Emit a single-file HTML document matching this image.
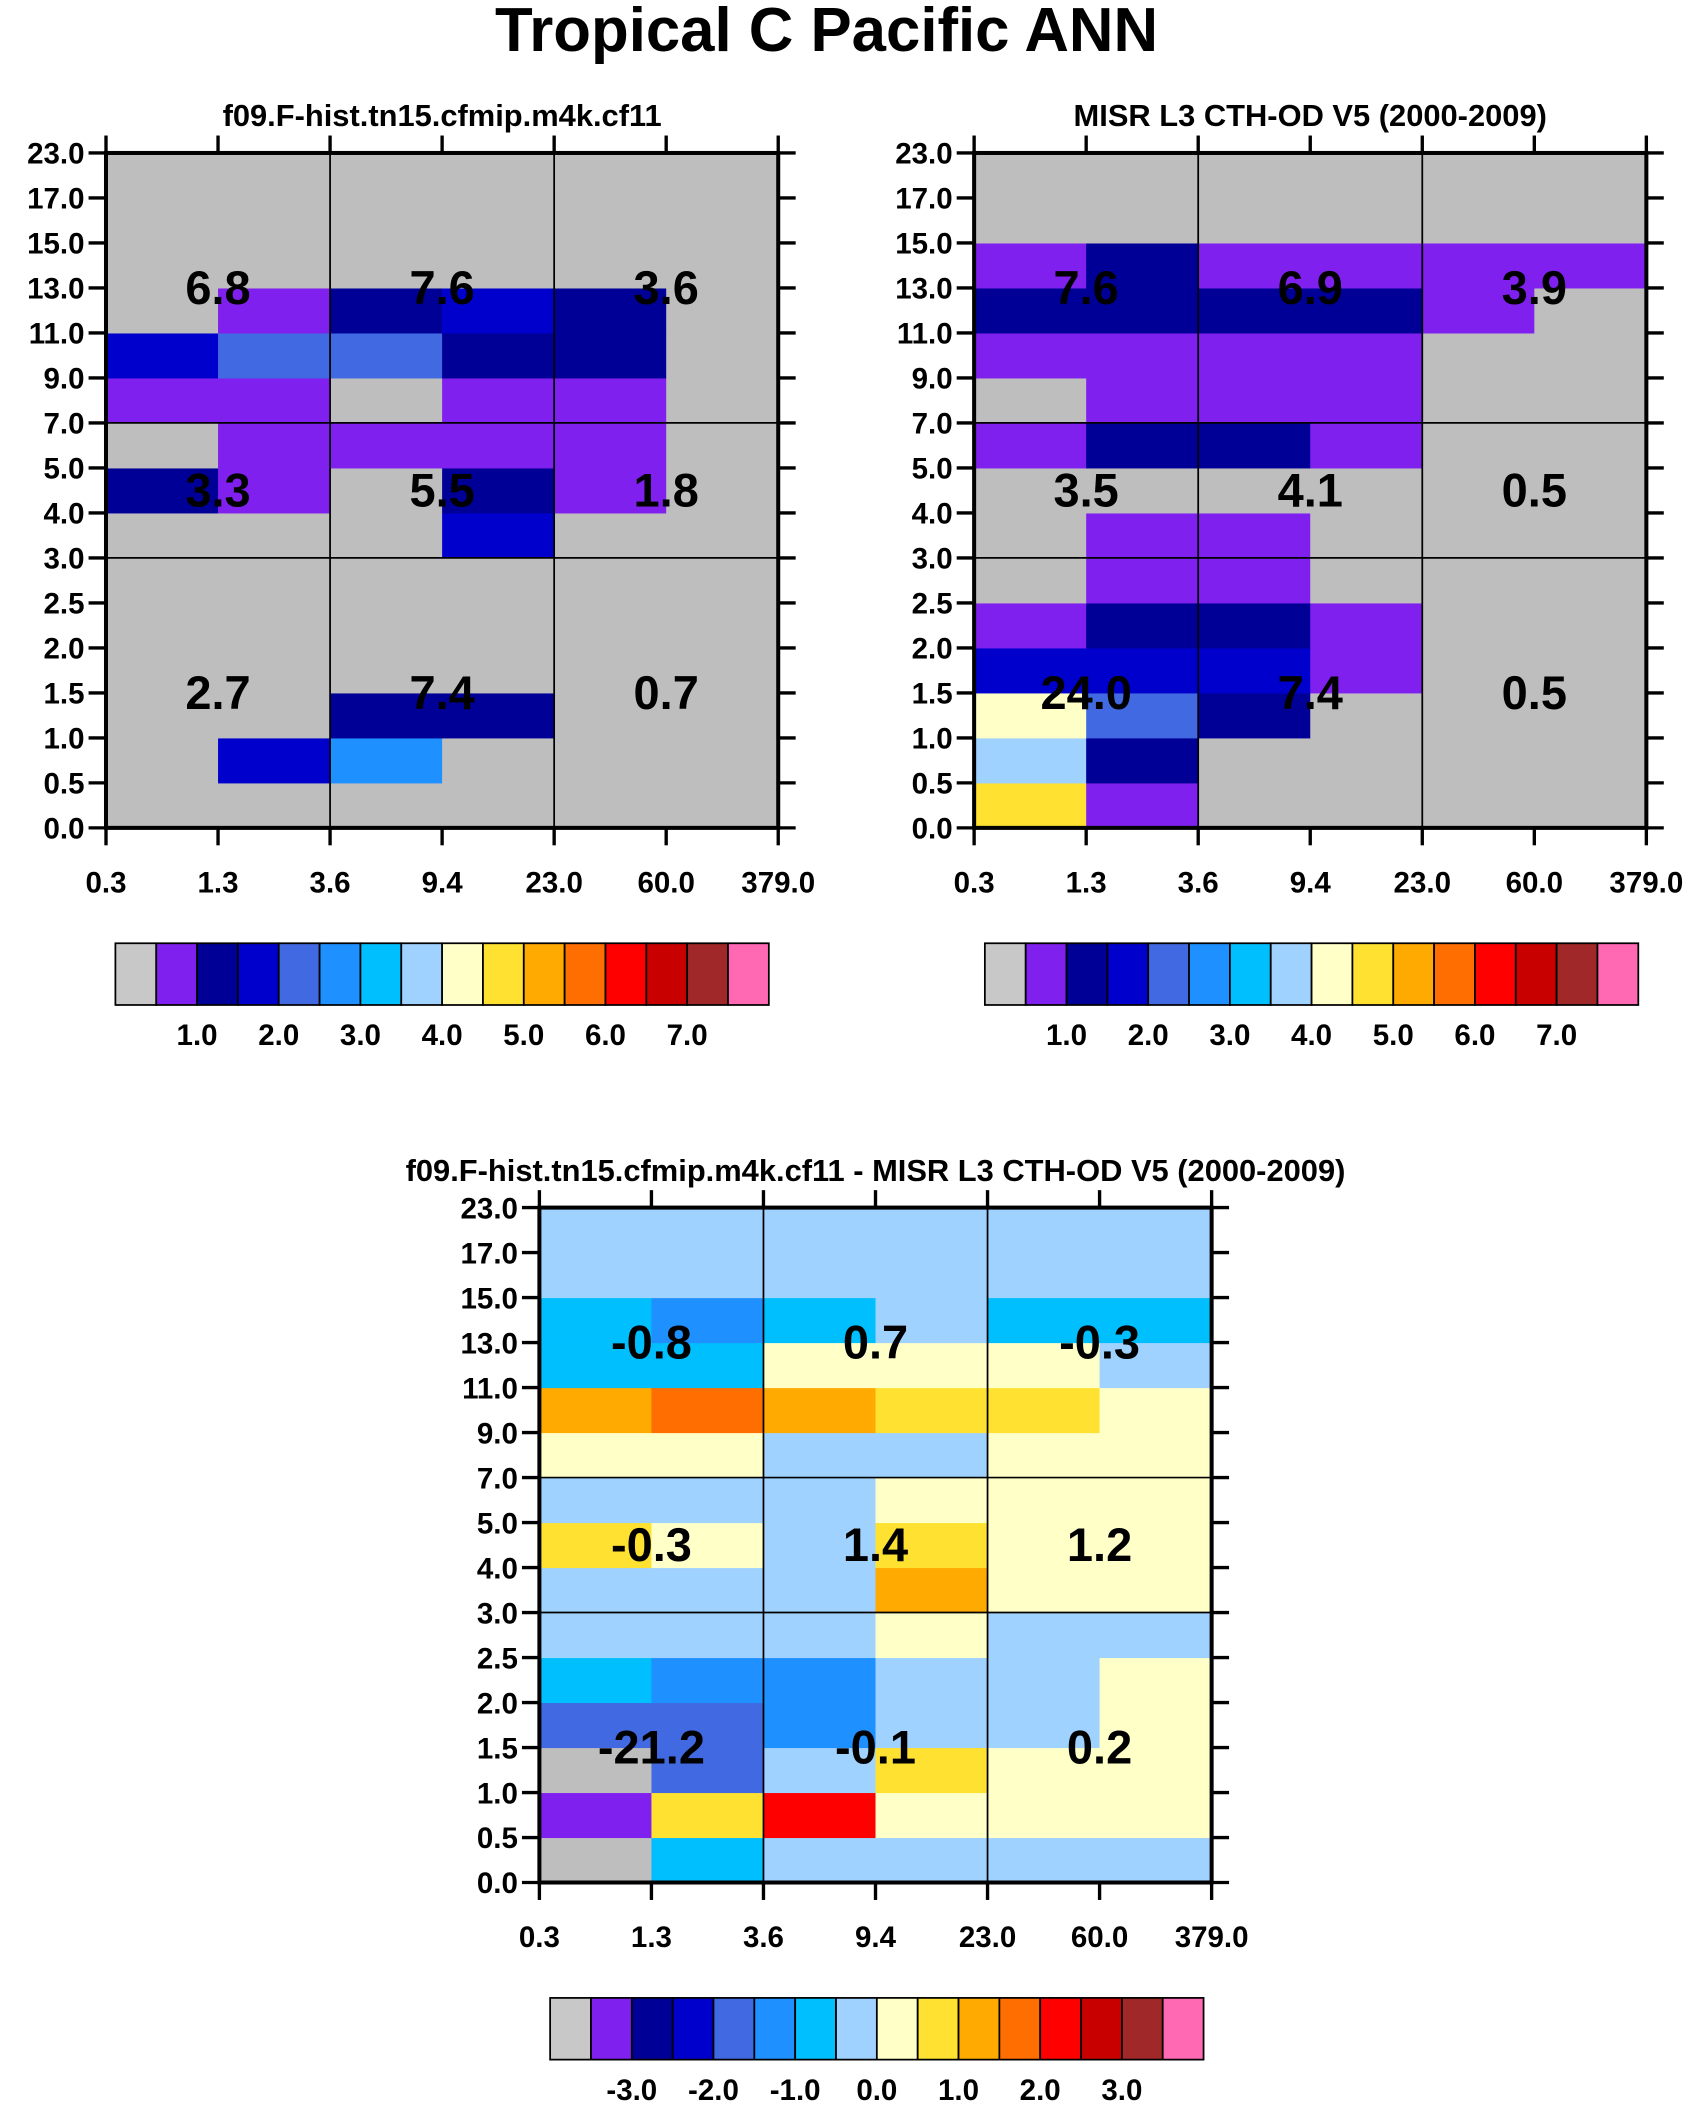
<!DOCTYPE html>
<html><head><meta charset="utf-8"><style>
html,body{margin:0;padding:0;background:#fff;}
svg{display:block;}
text{font-family:"Liberation Sans",Arial,sans-serif;font-weight:bold;fill:#000;}
</style></head><body>
<svg id="fig" width="1696" height="2109" viewBox="0 0 1264 1571.8" preserveAspectRatio="none" xmlns="http://www.w3.org/2000/svg">
<text x="616" y="38" font-size="46" text-anchor="middle">Tropical C Pacific ANN</text>
</svg>
<script>
// tick labels
const xTicks = ["0.3","1.3","3.6","9.4","23.0","60.0","379.0"];
const yTicks = ["0.0","0.5","1.0","1.5","2.0","2.5","3.0","4.0","5.0","7.0","9.0","11.0","13.0","15.0","17.0","23.0"];
const palette = ["#BEBEBE","#8020EE","#000096","#0000CD","#4169E1","#1E90FF","#00BFFF","#A0D2FF","#FFFFC8","#FFE132","#FFAA00","#FF6E00","#FF0000","#C80000","#A02828","#FF69B4"];
const levelsTop = [0.5,1,1.5,2,2.5,3,3.5,4,4.5,5,5.5,6,6.5,7,7.5];
const levelsDiff = [-3.5,-3,-2.5,-2,-1.5,-1,-0.5,0,0.5,1,1.5,2,2.5,3,3.5];
const barLabelsTop = ["1.0","2.0","3.0","4.0","5.0","6.0","7.0"];
const barLabelsDiff = ["-3.0","-2.0","-1.0","0.0","1.0","2.0","3.0"];
// grids: rows from bottom (0.0-0.5) to top (17-23), 6 columns each
const modelGrid = [
[0.2,0.2,0.2,0.2,0.2,0.2],
[0.2,1.7,2.7,0.2,0.2,0.2],
[0.2,0.2,1.2,1.2,0.2,0.2],
[0.2,0.2,0.2,0.2,0.2,0.2],
[0.2,0.2,0.2,0.2,0.2,0.2],
[0.2,0.2,0.2,0.2,0.2,0.2],
[0.2,0.2,0.2,1.7,0.2,0.2],
[1.2,0.7,0.2,1.2,0.7,0.2],
[0.2,0.7,0.7,0.7,0.7,0.2],
[0.7,0.7,0.2,0.7,0.7,0.2],
[1.7,2.2,2.2,1.2,1.2,0.2],
[0.2,0.7,1.2,1.7,1.2,0.2],
[0.2,0.2,0.2,0.2,0.2,0.2],
[0.2,0.2,0.2,0.2,0.2,0.2],
[0.2,0.2,0.2,0.2,0.2,0.2]];
const obsGrid = [
[4.7,0.7,0.2,0.2,0.2,0.2],
[3.7,1.2,0.2,0.2,0.2,0.2],
[4.2,2.2,1.2,0.2,0.2,0.2],
[1.7,1.7,1.7,0.7,0.2,0.2],
[0.7,1.2,1.2,0.7,0.2,0.2],
[0.2,0.7,0.7,0.2,0.2,0.2],
[0.2,0.7,0.7,0.2,0.2,0.2],
[0.2,0.2,0.2,0.2,0.2,0.2],
[0.7,1.2,1.2,0.7,0.2,0.2],
[0.2,0.7,0.7,0.7,0.2,0.2],
[0.7,0.7,0.7,0.7,0.2,0.2],
[1.2,1.2,1.2,1.2,0.7,0.2],
[0.7,1.2,0.7,0.7,0.7,0.7],
[0.2,0.2,0.2,0.2,0.2,0.2],
[0.2,0.2,0.2,0.2,0.2,0.2]];
const diffGrid = [
[-4,-0.7,-0.2,-0.2,-0.2,-0.2],
[-3.2,0.7,2.2,0.2,0.2,0.2],
[-4,-1.7,-0.2,0.7,0.2,0.2],
[-1.7,-1.7,-1.2,-0.2,-0.2,0.2],
[-0.7,-1.2,-1.2,-0.2,-0.2,0.2],
[-0.2,-0.2,-0.2,0.2,-0.2,-0.2],
[-0.2,-0.2,-0.2,1.2,0.2,0.2],
[0.7,0.2,-0.2,0.7,0.2,0.2],
[-0.2,-0.2,-0.2,0.2,0.2,0.2],
[0.2,0.2,-0.2,-0.2,0.2,0.2],
[1.2,1.7,1.2,0.7,0.7,0.2],
[-0.7,-0.7,0.2,0.2,0.2,-0.2],
[-0.7,-1.2,-0.7,-0.2,-0.7,-0.7],
[-0.2,-0.2,-0.2,-0.2,-0.2,-0.2],
[-0.2,-0.2,-0.2,-0.2,-0.2,-0.2]];
// summary values: [row-group][col-group], groups top->bottom
const modelTotals = [["6.8","7.6","3.6"],["3.3","5.5","1.8"],["2.7","7.4","0.7"]];
const obsTotals = [["7.6","6.9","3.9"],["3.5","4.1","0.5"],["24.0","7.4","0.5"]];
const diffTotals = [["-0.8","0.7","-0.3"],["-0.3","1.4","1.2"],["-21.2","-0.1","0.2"]];

const NS="http://www.w3.org/2000/svg";
const svg=document.getElementById('fig');
function mk(tag,attrs,parent){const e=document.createElementNS(NS,tag);for(const k in attrs)e.setAttribute(k,attrs[k]);(parent||svg).appendChild(e);return e;}
function colorIdx(v,levels){let i=0;for(const l of levels){if(v>=l)i++;}return i;}

function panel(name,px,py,title,grid,totals,levels,barLabels,barX,barY){
  const W=501,H=503,nc=6,nr=15;
  const g=mk('g',{});
  
  
  const xs=i=>px+i*W/nc, ys=j=>py+H-j*H/nr;
  const t=mk('text',{x:px+W/2,y:py-20,'font-size':23,'text-anchor':'middle'},g);
  t.textContent=title;
  
  
  grid.forEach((row,j)=>row.forEach((v,i)=>{
    const r=mk('rect',{x:xs(i),y:ys(j+1),width:W/nc+0.4,height:H/nr+0.4,fill:palette[colorIdx(v,levels)]},g);
    
    
  }));
  [2,4].forEach(i=>mk('line',{x1:xs(i),x2:xs(i),y1:py,y2:py+H,stroke:'#000','stroke-width':1.3},g));
  [6,9].forEach(j=>mk('line',{x1:px,x2:px+W,y1:ys(j),y2:ys(j),stroke:'#000','stroke-width':1.3},g));
  mk('rect',{x:px,y:py,width:W,height:H,fill:'none',stroke:'#000','stroke-width':3},g);
  xTicks.forEach((lab,i)=>{
    const x=xs(i);
    mk('line',{x1:x,x2:x,y1:py+H,y2:py+H+13,stroke:'#000','stroke-width':2.5},g);
    mk('line',{x1:x,x2:x,y1:py,y2:py-13,stroke:'#000','stroke-width':2.5},g);
    const tt=mk('text',{x:x,y:py+H+48,'font-size':22,'text-anchor':'middle'},g);
    tt.textContent=lab;
    
    
  });
  yTicks.forEach((lab,j)=>{
    const y=ys(j);
    mk('line',{x1:px,x2:px-13,y1:y,y2:y,stroke:'#000','stroke-width':2.5},g);
    mk('line',{x1:px+W,x2:px+W+13,y1:y,y2:y,stroke:'#000','stroke-width':2.5},g);
    const tt=mk('text',{x:px-16,y:y+8,'font-size':22,'text-anchor':'end'},g);
    tt.textContent=lab;
    
    
  });
  const rowPos=[12,7.5,3];
  totals.forEach((r,a)=>r.forEach((lab,b)=>{
    const tt=mk('text',{x:xs(1+2*b),y:ys(rowPos[a])+12,'font-size':35,'text-anchor':'middle'},g);
    tt.textContent=lab;
    
    
  }));
  const bw=487/16,bh=46;
  const cb=mk('g',{},g);
  
  
  palette.forEach((c,k)=>{
    const r=mk('rect',{x:barX+k*bw,y:barY,width:bw,height:bh,fill:k===0?'#C8C8C8':c,stroke:'#000','stroke-width':1.3},cb);
    
    
  });
  barLabels.forEach((lab,k)=>{
    const tt=mk('text',{x:barX+(2+2*k)*bw,y:barY+bh+30,'font-size':22,'text-anchor':'middle'},cb);
    tt.textContent=lab;
    
    
  });
}
panel('model-panel',79,114,'f09.F-hist.tn15.cfmip.m4k.cf11',modelGrid,modelTotals,levelsTop,barLabelsTop,86,703);
panel('obs-panel',726,114,'MISR L3 CTH-OD V5 (2000-2009)',obsGrid,obsTotals,levelsTop,barLabelsTop,734,703);
panel('diff-panel',402,900,'f09.F-hist.tn15.cfmip.m4k.cf11 - MISR L3 CTH-OD V5 (2000-2009)',diffGrid,diffTotals,levelsDiff,barLabelsDiff,410,1489);
</script>
</body></html>
